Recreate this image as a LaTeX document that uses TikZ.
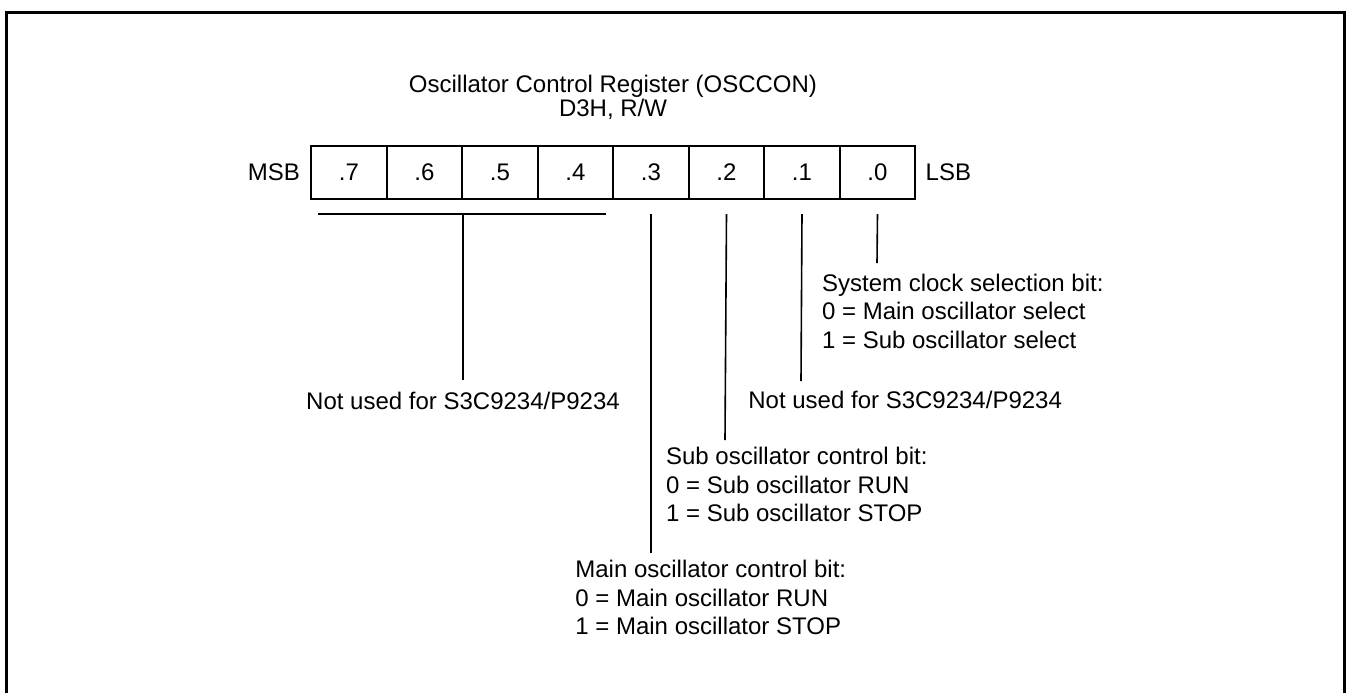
\documentclass[tikz,border=0pt]{standalone}
\usepackage{fontspec}
\setmainfont{Liberation Sans}
\usetikzlibrary{positioning}
\tikzset{bitcell/.style={rectangle, draw=black, line width=0.9pt, minimum width=37.75pt, minimum height=26.3pt, inner sep=0pt, outer sep=0pt, font=\fontsize{12}{14.2}\selectfont}}
\tikzset{note/.style={align=left, inner sep=0pt, anchor=base west, font=\fontsize{12}{14.2}\selectfont}}
\tikzset{lead/.style={line width=0.8pt}}

\begin{document}
\begin{tikzpicture}[x=0.5pt, y=-0.5pt, node distance=5.5pt]
        \useasboundingbox (0,0) rectangle (1346,693);
        % open frame
        \draw [line width=1.5pt] (6.5,693) -- (6.5,12) -- (1344,12) -- (1344,693);

        % base of a multi-line node is its last line
        \node (title) [align=center, inner sep=0pt, anchor=base, font=\fontsize{12}{12}\selectfont] at (613,116) {Oscillator Control Register (OSCCON)\\D3H, R/W};

        % register cells
        \node (b7) [bitcell] at (349,172.4) {.7};
        \node (b6) [bitcell, right=0pt of b7] {.6};
        \node (b5) [bitcell, right=0pt of b6] {.5};
        \node (b4) [bitcell, right=0pt of b5] {.4};
        \node (b3) [bitcell, right=0pt of b4] {.3};
        \node (b2) [bitcell, right=0pt of b3] {.2};
        \node (b1) [bitcell, right=0pt of b2] {.1};
        \node (b0) [bitcell, right=0pt of b1] {.0};
        \node (msb) [left=of b7, inner sep=0pt, font=\fontsize{12}{14.2}\selectfont] {MSB};
        \node (lsb) [right=5pt of b0, inner sep=0pt, font=\fontsize{12}{14.2}\selectfont] {LSB};

        % descriptions
        \node (sysclk) [note] at (821.7,348.1) {System clock selection bit:\\0 = Main oscillator select\\1 = Sub oscillator select};
        \node (unused1) [note] at (748,408.6) {Not used for S3C9234/P9234};
        \node (subosc) [note] at (665.7,521.4) {Sub oscillator control bit:\\0 = Sub oscillator RUN\\1 = Sub oscillator STOP};
        \node (mainosc) [note] at (575,634.4) {Main oscillator control bit:\\0 = Main oscillator RUN\\1 = Main oscillator STOP};
        \node (unused74) [note, anchor=base] at (463,409) {Not used for S3C9234/P9234};

        \coordinate (brl) at (318,214);
        \coordinate (brr) at (606,214);
        \coordinate (brm) at (463,214);
        \coordinate (e74) at (463,380);
        \coordinate (e3) at (651,553);
        \coordinate (e2) at (725,440);
        \coordinate (e1) at (801,381);
        \coordinate (e0) at (877,263);

        \draw [lead] (brl) -- (brr);
        \draw [lead] (brm) -- (e74);
        \draw [lead] ([yshift=-7.7pt]b3.south) -- (e3);
        \draw [lead] ([yshift=-7.7pt]b2.south) -- (e2);
        \draw [lead] ([yshift=-7.7pt]b1.south) -- (e1);
        \draw [lead] ([yshift=-7.7pt]b0.south) -- (e0);
    \end{tikzpicture}
\end{document}
